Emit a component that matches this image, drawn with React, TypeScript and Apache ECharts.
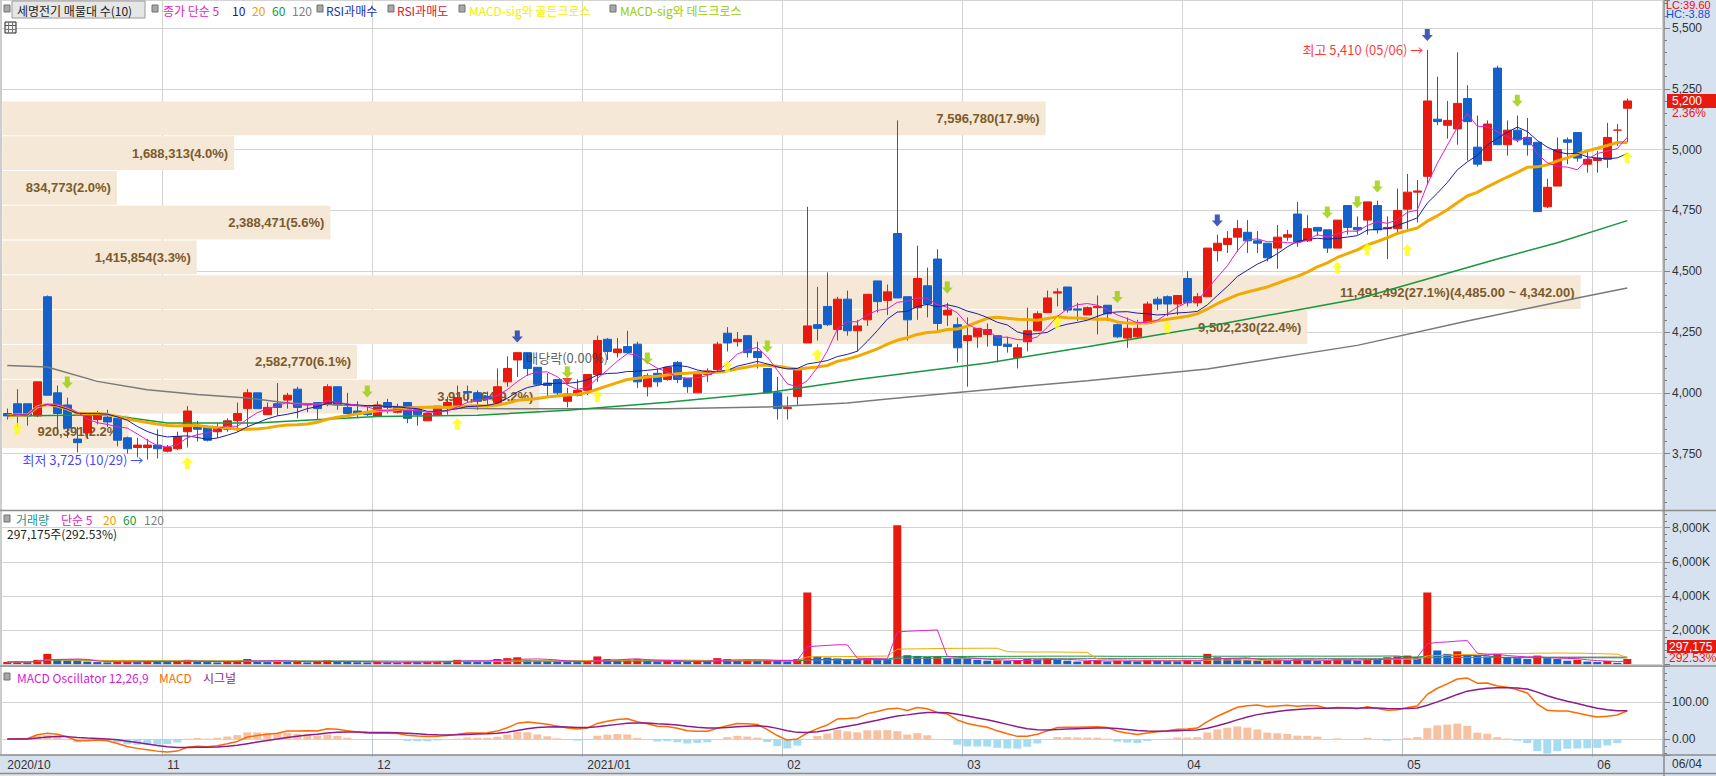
import React, { useEffect, useRef } from 'react';
import * as echarts from 'echarts';

const FONT = "'Liberation Sans','Noto Sans CJK KR',sans-serif";
const KFONT = "'Noto Sans CJK KR','Liberation Sans',sans-serif";

// trading days per month
const monthDays: [string, number[]][] = [
  ['2020/10', [8, 12, 13, 14, 15, 16, 19, 20, 21, 22, 23, 26, 27, 28, 29, 30]],
  ['2020/11', [2, 3, 4, 5, 6, 9, 10, 11, 12, 13, 16, 17, 18, 19, 20, 23, 24, 25, 26, 27, 30]],
  ['2020/12', [1, 2, 3, 4, 7, 8, 9, 10, 11, 14, 15, 16, 17, 18, 21, 22, 23, 24, 28, 29, 30]],
  ['2021/01', [4, 5, 6, 7, 8, 11, 12, 13, 14, 15, 18, 19, 20, 21, 22, 25, 26, 27, 28, 29]],
  ['2021/02', [1, 2, 3, 4, 5, 8, 9, 10, 15, 16, 17, 18, 19, 22, 23, 24, 25, 26]],
  ['2021/03', [2, 3, 4, 5, 8, 9, 10, 11, 12, 15, 16, 17, 18, 19, 22, 23, 24, 25, 26, 29, 30, 31]],
  ['2021/04', [1, 2, 5, 6, 7, 8, 9, 12, 13, 14, 15, 16, 19, 20, 21, 22, 23, 26, 27, 28, 29, 30]],
  ['2021/05', [3, 4, 6, 7, 10, 11, 12, 13, 14, 17, 18, 20, 21, 24, 25, 26, 27, 28, 31]],
  ['2021/06', [1, 2, 3, 4]],
];

const opens = [
  3915, 3955, 3955, 3905, 4395, 4000, 3950, 3810, 3835, 3890,
  3900, 3895, 3815, 3775, 3775, 3785, 3760, 3770, 3840, 3865,
  3860, 3840, 3850, 3885, 3935, 4000, 3910, 3955, 3970, 4015,
  3955, 3960, 3955, 4025, 3940, 3925, 3920, 3905, 3960, 3920,
  3960, 3935, 3885, 3910, 3940, 3935, 4005, 4000, 3985, 3960,
  4045, 4135, 4165, 4105, 4040, 4055, 3965, 3990, 4010, 4075,
  4220, 4165, 4190, 4200, 4025, 4080, 4055, 4125, 4060, 4000,
  4075, 4095, 4245, 4210, 4235, 4170, 4100, 4000, 3935, 3985,
  4205, 4280, 4355, 4260, 4385, 4255, 4300, 4460, 4380, 4655,
  4395, 4350, 4440, 4550, 4320, 4280, 4215, 4230, 4240, 4235,
  4200, 4145, 4210, 4255, 4330, 4410, 4435, 4345, 4320, 4350,
  4360, 4280, 4225, 4230, 4285, 4385, 4395, 4365, 4470, 4370,
  4395, 4585, 4610, 4640, 4660, 4625, 4615, 4595, 4640, 4735,
  4625, 4680, 4670, 4595, 4770, 4680, 4710, 4770, 4675, 4675,
  4755, 4825, 4890, 5125, 5100, 5085, 5210, 5010, 4955, 5335,
  5020, 5080, 5050, 5030, 4765, 4850, 5040, 5070, 4940, 4955,
  4960, 5080, 5170,
];
const closes = [
  3905, 3915, 3905, 4045, 3990, 3915, 3855, 3795, 3905, 3915,
  3880, 3805, 3770, 3785, 3785, 3770, 3775, 3820, 3925, 3850,
  3805, 3855, 3885, 3915, 4000, 3935, 3940, 3940, 3990, 3940,
  3950, 3935, 4025, 3950, 3915, 3915, 3910, 3950, 3940, 3940,
  3895, 3910, 3915, 3945, 3960, 3980, 4000, 3965, 3975, 4025,
  4100, 4165, 4100, 4035, 4030, 4000, 3995, 4010, 4075, 4215,
  4170, 4180, 4165, 4045, 4070, 4045, 4105, 4055, 4025, 4080,
  4090, 4200, 4205, 4220, 4165, 4145, 4000, 3935, 3940, 4100,
  4275, 4265, 4280, 4385, 4255, 4275, 4405, 4375, 4415, 4390,
  4300, 4470, 4365, 4285, 4340, 4185, 4235, 4265, 4260, 4195,
  4190, 4185, 4255, 4325, 4390, 4415, 4340, 4340, 4350, 4355,
  4325, 4230, 4265, 4265, 4365, 4365, 4365, 4400, 4370, 4395,
  4595, 4615, 4635, 4675, 4625, 4615, 4555, 4640, 4650, 4620,
  4675, 4665, 4595, 4710, 4680, 4670, 4785, 4670, 4680, 4750,
  4825, 4830, 5200, 5115, 5120, 5190, 5115, 4940, 5105, 5020,
  5080, 5040, 5020, 4745, 4845, 5000, 5030, 4965, 4960, 4965,
  5050, 5080, 5200,
];
const lows = [
  3890, 3860, 3865, 3900, 3990, 3830, 3815, 3755, 3810, 3870,
  3860, 3780, 3750, 3735, 3725, 3730, 3755, 3765, 3775, 3800,
  3800, 3815, 3840, 3840, 3860, 3935, 3910, 3905, 3935, 3895,
  3920, 3890, 3945, 3930, 3910, 3895, 3905, 3905, 3915, 3915,
  3875, 3865, 3885, 3905, 3910, 3935, 3960, 3930, 3940, 3955,
  4025, 4065, 4070, 4035, 3985, 3985, 3940, 3985, 3990, 4045,
  4135, 4145, 4160, 4020, 3985, 4025, 4050, 4040, 4000, 4000,
  4045, 4080, 4170, 4190, 4145, 4100, 4000, 3890, 3890, 3945,
  4205, 4215, 4275, 4215, 4235, 4170, 4275, 4330, 4320, 4390,
  4215, 4300, 4310, 4255, 4275, 4125, 4025, 4185, 4190, 4125,
  4165, 4100, 4170, 4255, 4330, 4355, 4330, 4295, 4320, 4240,
  4295, 4225, 4185, 4225, 4285, 4340, 4315, 4320, 4355, 4355,
  4395, 4540, 4575, 4580, 4575, 4575, 4540, 4510, 4625, 4600,
  4620, 4645, 4575, 4595, 4650, 4650, 4650, 4655, 4550, 4650,
  4670, 4700, 4855, 5100, 5045, 5020, 4955, 4930, 4955, 5020,
  4975, 5030, 4975, 4745, 4760, 4850, 4940, 4950, 4905, 4905,
  4925, 5015, 5030,
];
const highs = [
  3935, 4015, 3955, 4045, 4400, 4030, 3980, 3860, 3905, 3925,
  3930, 3900, 3820, 3815, 3810, 3850, 3785, 3840, 3945, 3885,
  3865, 3875, 3895, 3960, 4015, 4000, 3960, 4040, 4000, 4025,
  3955, 3960, 4035, 4025, 4000, 3965, 3945, 3965, 3975, 3955,
  3960, 3935, 3920, 3945, 3985, 4030, 4030, 4010, 4005, 4100,
  4150, 4165, 4165, 4105, 4080, 4055, 4020, 4055, 4075, 4235,
  4225, 4225, 4255, 4210, 4080, 4100, 4105, 4130, 4060, 4090,
  4100, 4210, 4270, 4250, 4235, 4210, 4100, 4065, 3985, 4100,
  4765, 4435, 4495, 4395, 4420, 4300, 4405, 4460, 4445, 5120,
  4395, 4605, 4515, 4590, 4370, 4310, 4310, 4265, 4285, 4235,
  4230, 4200, 4350, 4335, 4420, 4430, 4435, 4370, 4355, 4400,
  4360, 4285, 4310, 4300, 4375, 4395, 4400, 4400, 4500, 4410,
  4595, 4650, 4665, 4710, 4710, 4665, 4615, 4690, 4670, 4785,
  4730, 4680, 4670, 4710, 4770, 4725, 4785, 4790, 4725, 4840,
  4900, 4875, 5410, 5300, 5200, 5400, 5265, 5140, 5120, 5345,
  5120, 5140, 5130, 5030, 4880, 5050, 5050, 5070, 4995, 4995,
  5110, 5105, 5210,
];
const volumes = [
  120000, 150000, 110000, 250000, 600000, 260000, 200000, 180000, 150000, 120000,
  100000, 130000, 150000, 140000, 180000, 160000, 120000, 150000, 250000, 140000,
  120000, 100000, 150000, 200000, 300000, 150000, 120000, 200000, 130000, 180000,
  100000, 130000, 220000, 150000, 140000, 110000, 100000, 130000, 110000, 90000,
  140000, 120000, 130000, 180000, 150000, 250000, 200000, 180000, 160000, 300000,
  350000, 400000, 250000, 220000, 180000, 150000, 140000, 120000, 180000, 450000,
  300000, 220000, 280000, 300000, 200000, 150000, 180000, 160000, 140000, 200000,
  180000, 350000, 300000, 200000, 250000, 180000, 250000, 200000, 150000, 300000,
  4200000, 450000, 380000, 330000, 300000, 280000, 350000, 320000, 300000, 8150000,
  520000, 480000, 420000, 450000, 350000, 320000, 300000, 250000, 200000, 220000,
  180000, 200000, 300000, 280000, 350000, 250000, 200000, 150000, 180000, 220000,
  150000, 200000, 180000, 160000, 250000, 180000, 170000, 160000, 250000, 150000,
  600000, 400000, 300000, 280000, 250000, 200000, 220000, 250000, 180000, 300000,
  250000, 180000, 200000, 300000, 280000, 200000, 300000, 250000, 400000, 450000,
  500000, 400000, 4200000, 800000, 600000, 750000, 550000, 500000, 450000, 600000,
  400000, 350000, 300000, 500000, 350000, 300000, 200000, 250000, 150000, 120000,
  180000, 75700, 297175,
];

// long moving averages: [index, value]
const ma60Read: [number, number][] = [
  [0, 3905], [10, 3910], [16, 3876], [25, 3876], [28, 3883], [37, 3903], [47, 3908],
  [56, 3928], [66, 3961], [76, 4000], [85, 4055], [98, 4123], [108, 4189], [120, 4273],
  [135, 4386], [149, 4550], [155, 4617], [162, 4708],
];
const ma120Read: [number, number][] = [
  [0, 4112], [4, 4106], [9, 4047], [14, 4013], [19, 3993], [24, 3979], [28, 3958],
  [37, 3945], [47, 3935], [56, 3934], [66, 3934], [76, 3942], [84, 3958], [88, 3975],
  [98, 4013], [108, 4050], [120, 4098], [135, 4195], [146, 4295], [157, 4390], [162, 4431],
];

// volume profile (매물대)
const bandLow = [3770, 3913, 4056, 4199, 4342, 4485, 4628, 4771, 4914, 5057];
const bandHigh = [3913, 4056, 4199, 4342, 4485, 4628, 4771, 4914, 5057, 5200];
const bandVol = [920391, 3910664, 2582770, 9502230, 11491492, 1415854, 2388471, 834773, 1688313, 7596780];
const bandPct = ['2.2', '9.2', '6.1', '22.4', '27.1', '3.3', '5.6', '2.0', '4.0', '17.9'];

// signal markers
const goldenIdx = [1, 18, 45, 59, 72, 81, 105, 116, 133, 136, 140, 162];
const goldenY = [3853, 3711, 3873, 3986, 4110, 4155, 4289, 4270, 4515, 4591, 4587, 4969];
const deadIdx = [6, 36, 56, 64, 76, 94, 111, 132, 135, 137, 151];
const deadY = [4042, 4005, 4085, 4141, 4190, 4433, 4394, 4741, 4784, 4848, 5201];
const rsiIdx = [51, 121, 142];
const rsiY = [4231, 4708, 5471];
const exDivIdx = 56;
const exDivY = 4046;

const UP = 'path://M5.5,0 L11,6 L8,6 L8,12 L3,12 L3,6 L0,6 Z';
const DOWN = 'path://M3,0 L8,0 L8,6 L11,6 L5.5,12 L0,6 L3,6 Z';

function sma(arr: number[], n: number) {
  return arr.map((_, i) => {
    const s = Math.max(0, i - n + 1);
    let sum = 0;
    for (let j = s; j <= i; j++) sum += arr[j];
    return Math.round((sum / (i - s + 1)) * 100) / 100;
  });
}
function ema(arr: number[], n: number) {
  const k = 2 / (n + 1);
  const out: number[] = [];
  let prev = arr[0];
  arr.forEach((v, i) => {
    prev = i === 0 ? v : v * k + prev * (1 - k);
    out.push(prev);
  });
  return out;
}
const fmt = (v: number) => Math.round(v).toLocaleString('en-US');

function buildOption() {
  const dates: string[] = [];
  const monthStart = new Set<number>();
  monthDays.forEach(([ym, days]) => {
    monthStart.add(dates.length);
    days.forEach((d) => dates.push(`${ym}/${String(d).padStart(2, '0')}`));
  });
  const cats = [...dates, 'p1', 'p2', 'p3'];

  const candle = opens.map((o, i) => [o, closes[i], lows[i], highs[i]]);
  const ma5 = sma(closes, 5);
  const ma10 = sma(closes, 10);
  const ma20 = sma(closes, 20);
  const e12 = ema(closes, 12);
  const e26 = ema(closes, 26);
  const macd = e12.map((v, i) => v - e26[i]);
  const sig = ema(macd, 9);
  const osc = macd.map((v, i) => v - sig[i]);
  const vma5 = sma(volumes, 5);
  const vma20 = sma(volumes, 20);
  const vma60 = sma(volumes, 60);
  const vma120 = sma(volumes, 120);
  const volColor = volumes.map((v, i) => (i > 0 && v < volumes[i - 1] ? '#1461cc' : '#e8190f'));
  const maxBand = Math.max(...bandVol);

  const gridL = 2.3, gridW = 1660;
  const splitFn = (i: number) => monthStart.has(i) && i > 0;
  const xAxisBase = (gi: number) => ({
    type: 'category', gridIndex: gi, data: cats, boundaryGap: true,
    axisLine: { show: false }, axisTick: { show: false }, axisLabel: { show: false },
    splitLine: { show: true, interval: splitFn, lineStyle: { color: '#d3d3d3', width: 1 } },
  });
  const yAxisBase = {
    type: 'value', position: 'right', offset: 1.7,
    axisLine: { show: false },
    axisTick: { show: true, length: 6, lineStyle: { color: '#808080' } },
    minorTick: { show: true, splitNumber: 5, length: 3, lineStyle: { color: '#808080' } },
    splitLine: { show: true, lineStyle: { color: '#d3d3d3', width: 1 } },
  };
  const lbl = { showMinLabel: false, showMaxLabel: false, color: '#333', fontSize: 12, fontFamily: FONT, margin: 8 };

  const T = (text: string, x: number, y: number, fill: string, extra: any = {}) => ({
    type: 'text', x, y, z: 100,
    style: { text, fill, fontSize: 12, fontFamily: KFONT, verticalAlign: 'middle', ...extra },
  });
  const sq = (x: number, y: number) => ({
    type: 'rect', z: 100, shape: { x, y, width: 6, height: 7 }, style: { fill: '#a8a8a8', stroke: '#707070', lineWidth: 1 },
  });
  const hl = (y: number) => ({ type: 'line', z: 100, shape: { x1: 0, y1: y, x2: 1716, y2: y }, style: { stroke: '#8c8c8c', lineWidth: 1.5 } });

  const graphic: any[] = [
    hl(510.5), hl(666), hl(755), hl(773.5),
    { type: 'line', z: 100, shape: { x1: 1664, y1: 0, x2: 1664, y2: 776 }, style: { stroke: '#8c8c8c', lineWidth: 1.5 } },
    { type: 'line', z: 100, shape: { x1: 1, y1: 0, x2: 1, y2: 755 }, style: { stroke: '#9a9a9a', lineWidth: 1 } },
    // top legend
    sq(4, 5),
    { type: 'rect', z: 100, shape: { x: 12, y: 1, width: 133, height: 17 }, style: { fill: '#e6e6e6', stroke: '#9a9a9a', lineWidth: 1 } },
    T('세명전기 매물대 수(10)', 17, 10, '#222'),
    sq(152, 5), T('종가 단순 5', 163, 10, '#dc1ec4'), T('10', 232, 10, '#1414b4'), T('20', 252, 10, '#f0a000'),
    T('60', 272, 10, '#119944'), T('120', 292, 10, '#808080'),
    sq(317, 5), T('RSI과매수', 326, 10, '#1432b4'),
    sq(388, 5), T('RSI과매도', 397, 10, '#e0102a'),
    sq(459, 5), T('MACD-sig와 골든크로스', 469, 10, '#f0f000'),
    sq(610, 5), T('MACD-sig와 데드크로스', 620, 10, '#99cc00'),
    // grid icon
    { type: 'rect', z: 100, shape: { x: 5, y: 22, width: 11, height: 11 }, style: { fill: '#f2f2f2', stroke: '#222', lineWidth: 1 } },
    { type: 'line', z: 100, shape: { x1: 5, y1: 25.5, x2: 16, y2: 25.5 }, style: { stroke: '#555' } },
    { type: 'line', z: 100, shape: { x1: 8.5, y1: 22, x2: 8.5, y2: 33 }, style: { stroke: '#777' } },
    { type: 'line', z: 100, shape: { x1: 12.5, y1: 22, x2: 12.5, y2: 33 }, style: { stroke: '#777' } },
    { type: 'line', z: 100, shape: { x1: 5, y1: 29.5, x2: 16, y2: 29.5 }, style: { stroke: '#777' } },
    // right-top
    T('LC:39.60', 1666, 5, '#ff0000', { fontFamily: FONT, fontSize: 11 }),
    T('HC:-3.88', 1666, 14, '#0a50dc', { fontFamily: FONT, fontSize: 11 }),
    { type: 'rect', z: 100, shape: { x: 1667, y: 94, width: 49, height: 14 }, style: { fill: '#e8190f' } },
    T('5,200', 1672, 101, '#ffffff', { fontFamily: FONT }),
    T('2.36%', 1672, 113, '#e8190f', { fontFamily: FONT }),
    // volume legend
    sq(4, 515), T('거래량', 16, 519, '#2a9090'), T('단순 5', 61, 519, '#dc1ec4'), T('20', 103, 519, '#f0a000'),
    T('60', 123, 519, '#119944'), T('120', 144, 519, '#808080'),
    T('297,175주(292.53%)', 7, 533, '#222'),
    { type: 'rect', z: 100, shape: { x: 1667, y: 640, width: 49, height: 13 }, style: { fill: '#e8190f' } },
    T('297,175', 1669, 646.5, '#ffffff', { fontFamily: FONT }),
    T('292.53%', 1669, 658, '#e8190f', { fontFamily: FONT }),
    // macd legend
    sq(4, 673), T('MACD Oscillator 12,26,9', 17, 677, '#d21ed2'), T('MACD', 159, 677, '#ff6a00'), T('시그널', 203, 677, '#8c1c8c'),
    T('06/04', 1672, 764, '#333', { fontFamily: FONT }),
  ];

  const macdX = {
    ...xAxisBase(2),
    axisTick: { show: true, interval: splitFn, length: 18, inside: false, lineStyle: { color: '#b8c4d0' } },
    axisLabel: {
      show: true, interval: (i: number) => monthStart.has(i), align: 'left', margin: 4,
      color: '#333', fontSize: 12, fontFamily: FONT,
      formatter: (v: string, i: number) => {
        const [y, m] = v.split('/');
        return i === 0 || m === '01' ? `${y}/${m}` : m;
      },
    },
  };

  return {
    animation: false,
    textStyle: { fontFamily: FONT },
    graphic,
    grid: [
      { left: gridL, width: gridW, top: 0, height: 510 },
      { left: gridL, width: gridW, top: 510, height: 154.1 },
      { left: gridL, width: gridW, top: 666, height: 89 },
    ],
    xAxis: [xAxisBase(0), xAxisBase(1), macdX],
    yAxis: [
      { ...yAxisBase, gridIndex: 0, min: 3518.1, max: 5615.1, minInterval: 250, maxInterval: 250, splitNumber: 8,
        axisLabel: { ...lbl, formatter: (v: number) => fmt(v) } },
      { ...yAxisBase, gridIndex: 1, min: 0, max: 9038000, minInterval: 2000000, maxInterval: 2000000,
        axisLabel: { ...lbl, formatter: (v: number) => fmt(v / 1000) + 'K' } },
      { ...yAxisBase, gridIndex: 2, min: -43.6, max: 198.9, minInterval: 100, maxInterval: 100,
        axisLabel: { ...lbl, formatter: (v: number) => v.toFixed(2) } },
    ],
    series: [
      {
        type: 'custom', xAxisIndex: 0, yAxisIndex: 0, z: 1,
        encode: { x: 0, y: [1, 2] },
        data: bandLow.map((lo, i) => [0, lo, bandHigh[i], bandVol[i], i]),
        renderItem: (params: any, api: any) => {
          const lo = api.value(1), hi = api.value(2), vol = api.value(3), idx = api.value(4);
          const cs = params.coordSys;
          const yLo = api.coord([0, lo])[1];
          const yHi = api.coord([0, hi])[1];
          const w = (vol / maxBand) * cs.width * 0.9508;
          let text = `${fmt(vol)}(${bandPct[idx]}%)`;
          if (vol === maxBand) text += `(${hi.toLocaleString('en-US', { minimumFractionDigits: 2 })} ~ ${lo.toLocaleString('en-US', { minimumFractionDigits: 2 })})`;
          return {
            type: 'group',
            children: [
              { type: 'rect', shape: { x: cs.x, y: yHi + 0.5, width: w, height: yLo - yHi - 1 }, style: { fill: '#f5e8d6' } },
              { type: 'text', style: { text, x: cs.x + w - 6, y: (yLo + yHi) / 2, align: 'right', verticalAlign: 'middle', fill: '#7b5a2c', font: `bold 13px ${FONT}` } },
            ],
          };
        },
      },
      {
        type: 'candlestick', xAxisIndex: 0, yAxisIndex: 0, z: 3, barWidth: 8, data: candle,
        itemStyle: { color: '#e8190f', color0: '#1461cc', borderColor: '#e8190f', borderColor0: '#1461cc', borderWidth: 1 },
      },
      { type: 'line', xAxisIndex: 0, yAxisIndex: 0, z: 4, data: ma120Read, symbol: 'none', lineStyle: { color: '#7a7a7a', width: 1.5 } },
      { type: 'line', xAxisIndex: 0, yAxisIndex: 0, z: 4, data: ma60Read, symbol: 'none', lineStyle: { color: '#17973f', width: 1.5 } },
      { type: 'line', xAxisIndex: 0, yAxisIndex: 0, z: 4, data: ma20, symbol: 'none', lineStyle: { color: '#f2a900', width: 3 } },
      { type: 'line', xAxisIndex: 0, yAxisIndex: 0, z: 4, data: ma10, symbol: 'none', lineStyle: { color: '#1c1ca8', width: 1 } },
      { type: 'line', xAxisIndex: 0, yAxisIndex: 0, z: 4, data: ma5, symbol: 'none', lineStyle: { color: '#e020c8', width: 1 } },
      { type: 'scatter', xAxisIndex: 0, yAxisIndex: 0, z: 6, symbol: UP, symbolSize: [11, 12], itemStyle: { color: '#ffff00' },
        data: goldenIdx.map((k, i) => [k, goldenY[i]]) },
      { type: 'scatter', xAxisIndex: 0, yAxisIndex: 0, z: 6, symbol: DOWN, symbolSize: [11, 12], itemStyle: { color: '#99cc00' },
        data: deadIdx.map((k, i) => [k, deadY[i]]) },
      { type: 'scatter', xAxisIndex: 0, yAxisIndex: 0, z: 6, symbol: DOWN, symbolSize: [11, 12], itemStyle: { color: '#1232a8' },
        data: rsiIdx.map((k, i) => [k, rsiY[i]]) },
      { type: 'scatter', xAxisIndex: 0, yAxisIndex: 0, z: 6, symbol: 'triangle', symbolRotate: 180, symbolSize: [10, 7], itemStyle: { color: '#e8190f' },
        data: [[exDivIdx, exDivY]],
        label: { show: true, position: 'top', distance: 14, formatter: '배당락(0.00%)', color: '#333', fontSize: 13, fontFamily: KFONT } },
      { type: 'scatter', xAxisIndex: 0, yAxisIndex: 0, z: 7, symbolSize: 0, data: [[142, 5410]],
        label: { show: true, position: 'left', distance: 4, formatter: '최고 5,410 (05/06) →', color: '#ff0000', fontSize: 13, fontFamily: KFONT } },
      { type: 'scatter', xAxisIndex: 0, yAxisIndex: 0, z: 7, symbolSize: 0, data: [[14, 3725]],
        label: { show: true, position: 'left', distance: 4, formatter: '최저 3,725 (10/29) →', color: '#1010ff', fontSize: 13, fontFamily: KFONT } },
      // volume
      { type: 'bar', xAxisIndex: 1, yAxisIndex: 1, barWidth: 8, data: volumes.map((v, i) => ({ value: v, itemStyle: { color: volColor[i] } })) },
      { type: 'line', xAxisIndex: 1, yAxisIndex: 1, data: vma120, symbol: 'none', lineStyle: { color: '#808080', width: 1 } },
      { type: 'line', xAxisIndex: 1, yAxisIndex: 1, data: vma60, symbol: 'none', lineStyle: { color: '#17973f', width: 1 } },
      { type: 'line', xAxisIndex: 1, yAxisIndex: 1, data: vma20, symbol: 'none', lineStyle: { color: '#f2a900', width: 1 } },
      { type: 'line', xAxisIndex: 1, yAxisIndex: 1, data: vma5, symbol: 'none', lineStyle: { color: '#e020c8', width: 1 } },
      // macd
      { type: 'bar', xAxisIndex: 2, yAxisIndex: 2, barWidth: 8,
        data: osc.map((v) => ({ value: Math.round(v * 100) / 100, itemStyle: { color: v >= 0 ? '#f7c2a2' : '#a6dcf2' } })) },
      { type: 'line', xAxisIndex: 2, yAxisIndex: 2, data: macd.map((v) => Math.round(v * 100) / 100), symbol: 'none', lineStyle: { color: '#ff6a00', width: 1.5 } },
      { type: 'line', xAxisIndex: 2, yAxisIndex: 2, data: sig.map((v) => Math.round(v * 100) / 100), symbol: 'none', lineStyle: { color: '#8c1c8c', width: 1.5 } },
    ],
  };
}

export default function App() {
  const ref = useRef<HTMLDivElement>(null);
  useEffect(() => {
    const el = ref.current;
    if (!el) return;
    const chart = echarts.init(el, null, { renderer: 'svg' });
    chart.setOption(buildOption() as any);
    return () => chart.dispose();
  }, []);
  const bg = [
    'linear-gradient(#d6e2ef,#d6e2ef) 1664px 0 / 52px 776px no-repeat',
    'linear-gradient(#d6e2ef,#d6e2ef) 0 755px / 1716px 18px no-repeat',
    'linear-gradient(#e4e4e4,#e4e4e4) 0 774px / 1716px 2px no-repeat',
    '#ffffff',
  ].join(',');
  return (
    <div
      ref={ref}
      style={{ position: 'absolute', left: 0, top: 0, width: 1716, height: 776, background: bg }}
    />
  );
}
